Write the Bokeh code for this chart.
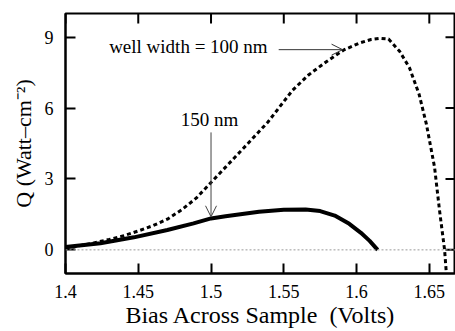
import math
from bokeh.plotting import figure
from bokeh.models import Range1d, FixedTicker, Span, Label, Arrow, OpenHead
from bokeh.embed import file_html
from bokeh.resources import INLINE

# 100 nm well (dashed)
bias_100 = [1.400, 1.410, 1.420, 1.430, 1.440, 1.450, 1.460, 1.470, 1.480, 1.490,
            1.500, 1.510, 1.520, 1.539, 1.556, 1.567, 1.579, 1.591, 1.602, 1.610,
            1.6165, 1.622, 1.6296, 1.6364, 1.643, 1.648, 1.6536, 1.657, 1.6605, 1.6617]
q_100 = [0.07, 0.18, 0.30, 0.44, 0.60, 0.80, 1.02, 1.30, 1.70, 2.20,
         2.85, 3.50, 4.15, 5.40, 6.75, 7.40, 7.95, 8.45, 8.75, 8.90,
         8.95, 8.92, 8.40, 7.70, 6.58, 5.32, 3.50, 1.68, 0.00, -0.98]

# 150 nm well (solid)
bias_150 = [1.400, 1.424, 1.447, 1.470, 1.488, 1.500, 1.510, 1.533, 1.550, 1.565,
            1.575, 1.585, 1.595, 1.603, 1.609, 1.6145]
q_150 = [0.12, 0.28, 0.53, 0.84, 1.12, 1.33, 1.42, 1.61, 1.70, 1.71,
         1.64, 1.45, 1.10, 0.72, 0.38, 0.00]

x_ticks = [1.4, 1.45, 1.5, 1.55, 1.6, 1.65]
x_tick_labels = {1.4: "1.4", 1.45: "1.45", 1.5: "1.5", 1.55: "1.55", 1.6: "1.6", 1.65: "1.65"}
y_ticks = [0, 3, 6, 9]

FONT = "Liberation Serif"

xr = Range1d(1.4, 1.668)
yr = Range1d(-1, 10)
p = figure(frame_width=390, frame_height=260, output_backend="svg", toolbar_location=None,
           x_range=xr, y_range=yr,
           x_axis_label="Bias Across Sample \u00a0(Volts)", y_axis_label="Q (Watt\u2013cm\u207b\u00b2)",
           min_border_left=65, min_border_right=0, min_border_top=13, min_border_bottom=58)
p.grid.visible = False
p.background_fill_color = "white"
p.border_fill_color = "white"
p.outline_line_color = "black"
p.outline_line_width = 2

for ax in (p.xaxis[0], p.yaxis[0]):
    ax.major_tick_in = 10
    ax.major_tick_out = 0
    ax.major_tick_line_color = "black"
    ax.major_tick_line_width = 2
    ax.minor_tick_line_color = None
    ax.axis_line_width = 2
    ax.major_label_text_font = FONT
    ax.major_label_text_font_size = "18px"
    ax.major_label_text_color = "black"
    ax.axis_label_text_font = FONT
    ax.axis_label_text_font_style = "normal"
    ax.axis_label_text_color = "black"

p.xaxis[0].axis_label_text_font_size = "24px"
p.yaxis[0].axis_label_text_font_size = "22px"
p.xaxis[0].ticker = FixedTicker(ticks=x_ticks)
p.xaxis[0].major_label_overrides = x_tick_labels
p.xaxis[0].major_label_standoff = 11
p.xaxis[0].axis_label_standoff = 1
p.yaxis[0].ticker = FixedTicker(ticks=y_ticks)
p.yaxis[0].major_label_standoff = 12
p.yaxis[0].axis_label_standoff = 6

# inward tick marks on top and right edges (dash markers centred on the frame edge)
p.scatter(x=x_ticks, y=[yr.end] * len(x_ticks), marker="dash", size=20, angle=math.pi / 2,
          line_color="black", line_width=2)
p.scatter(x=[xr.end] * len(y_ticks), y=y_ticks, marker="dash", size=20, angle=0,
          line_color="black", line_width=2)

p.add_layout(Span(location=0, dimension="width", line_color="#999999", line_width=1, line_dash="2 2"))

p.line(bias_100, q_100, line_color="black", line_width=3, line_dash="4 3")
p.line(bias_150, q_150, line_color="black", line_width=4)

p.add_layout(Label(x=1.5389, y=8.6, text="well width = 100 nm", text_align="right",
                   text_baseline="middle", text_font=FONT, text_font_size="19px", text_color="black"))
p.add_layout(Arrow(end=OpenHead(size=11, line_width=1, line_color="#333333"),
                   x_start=1.5465, y_start=8.47, x_end=1.5904, y_end=8.47,
                   line_color="#333333", line_width=1))
p.add_layout(Label(x=1.499, y=5.53, text="150 nm", text_align="center",
                   text_baseline="middle", text_font=FONT, text_font_size="19px", text_color="black"))
p.add_layout(Arrow(end=OpenHead(size=11, line_width=1, line_color="#444444"),
                   x_start=1.5, y_start=4.97, x_end=1.5, y_end=1.40,
                   line_color="#444444", line_width=1))

open("out.html", "w").write(file_html(p, INLINE))
